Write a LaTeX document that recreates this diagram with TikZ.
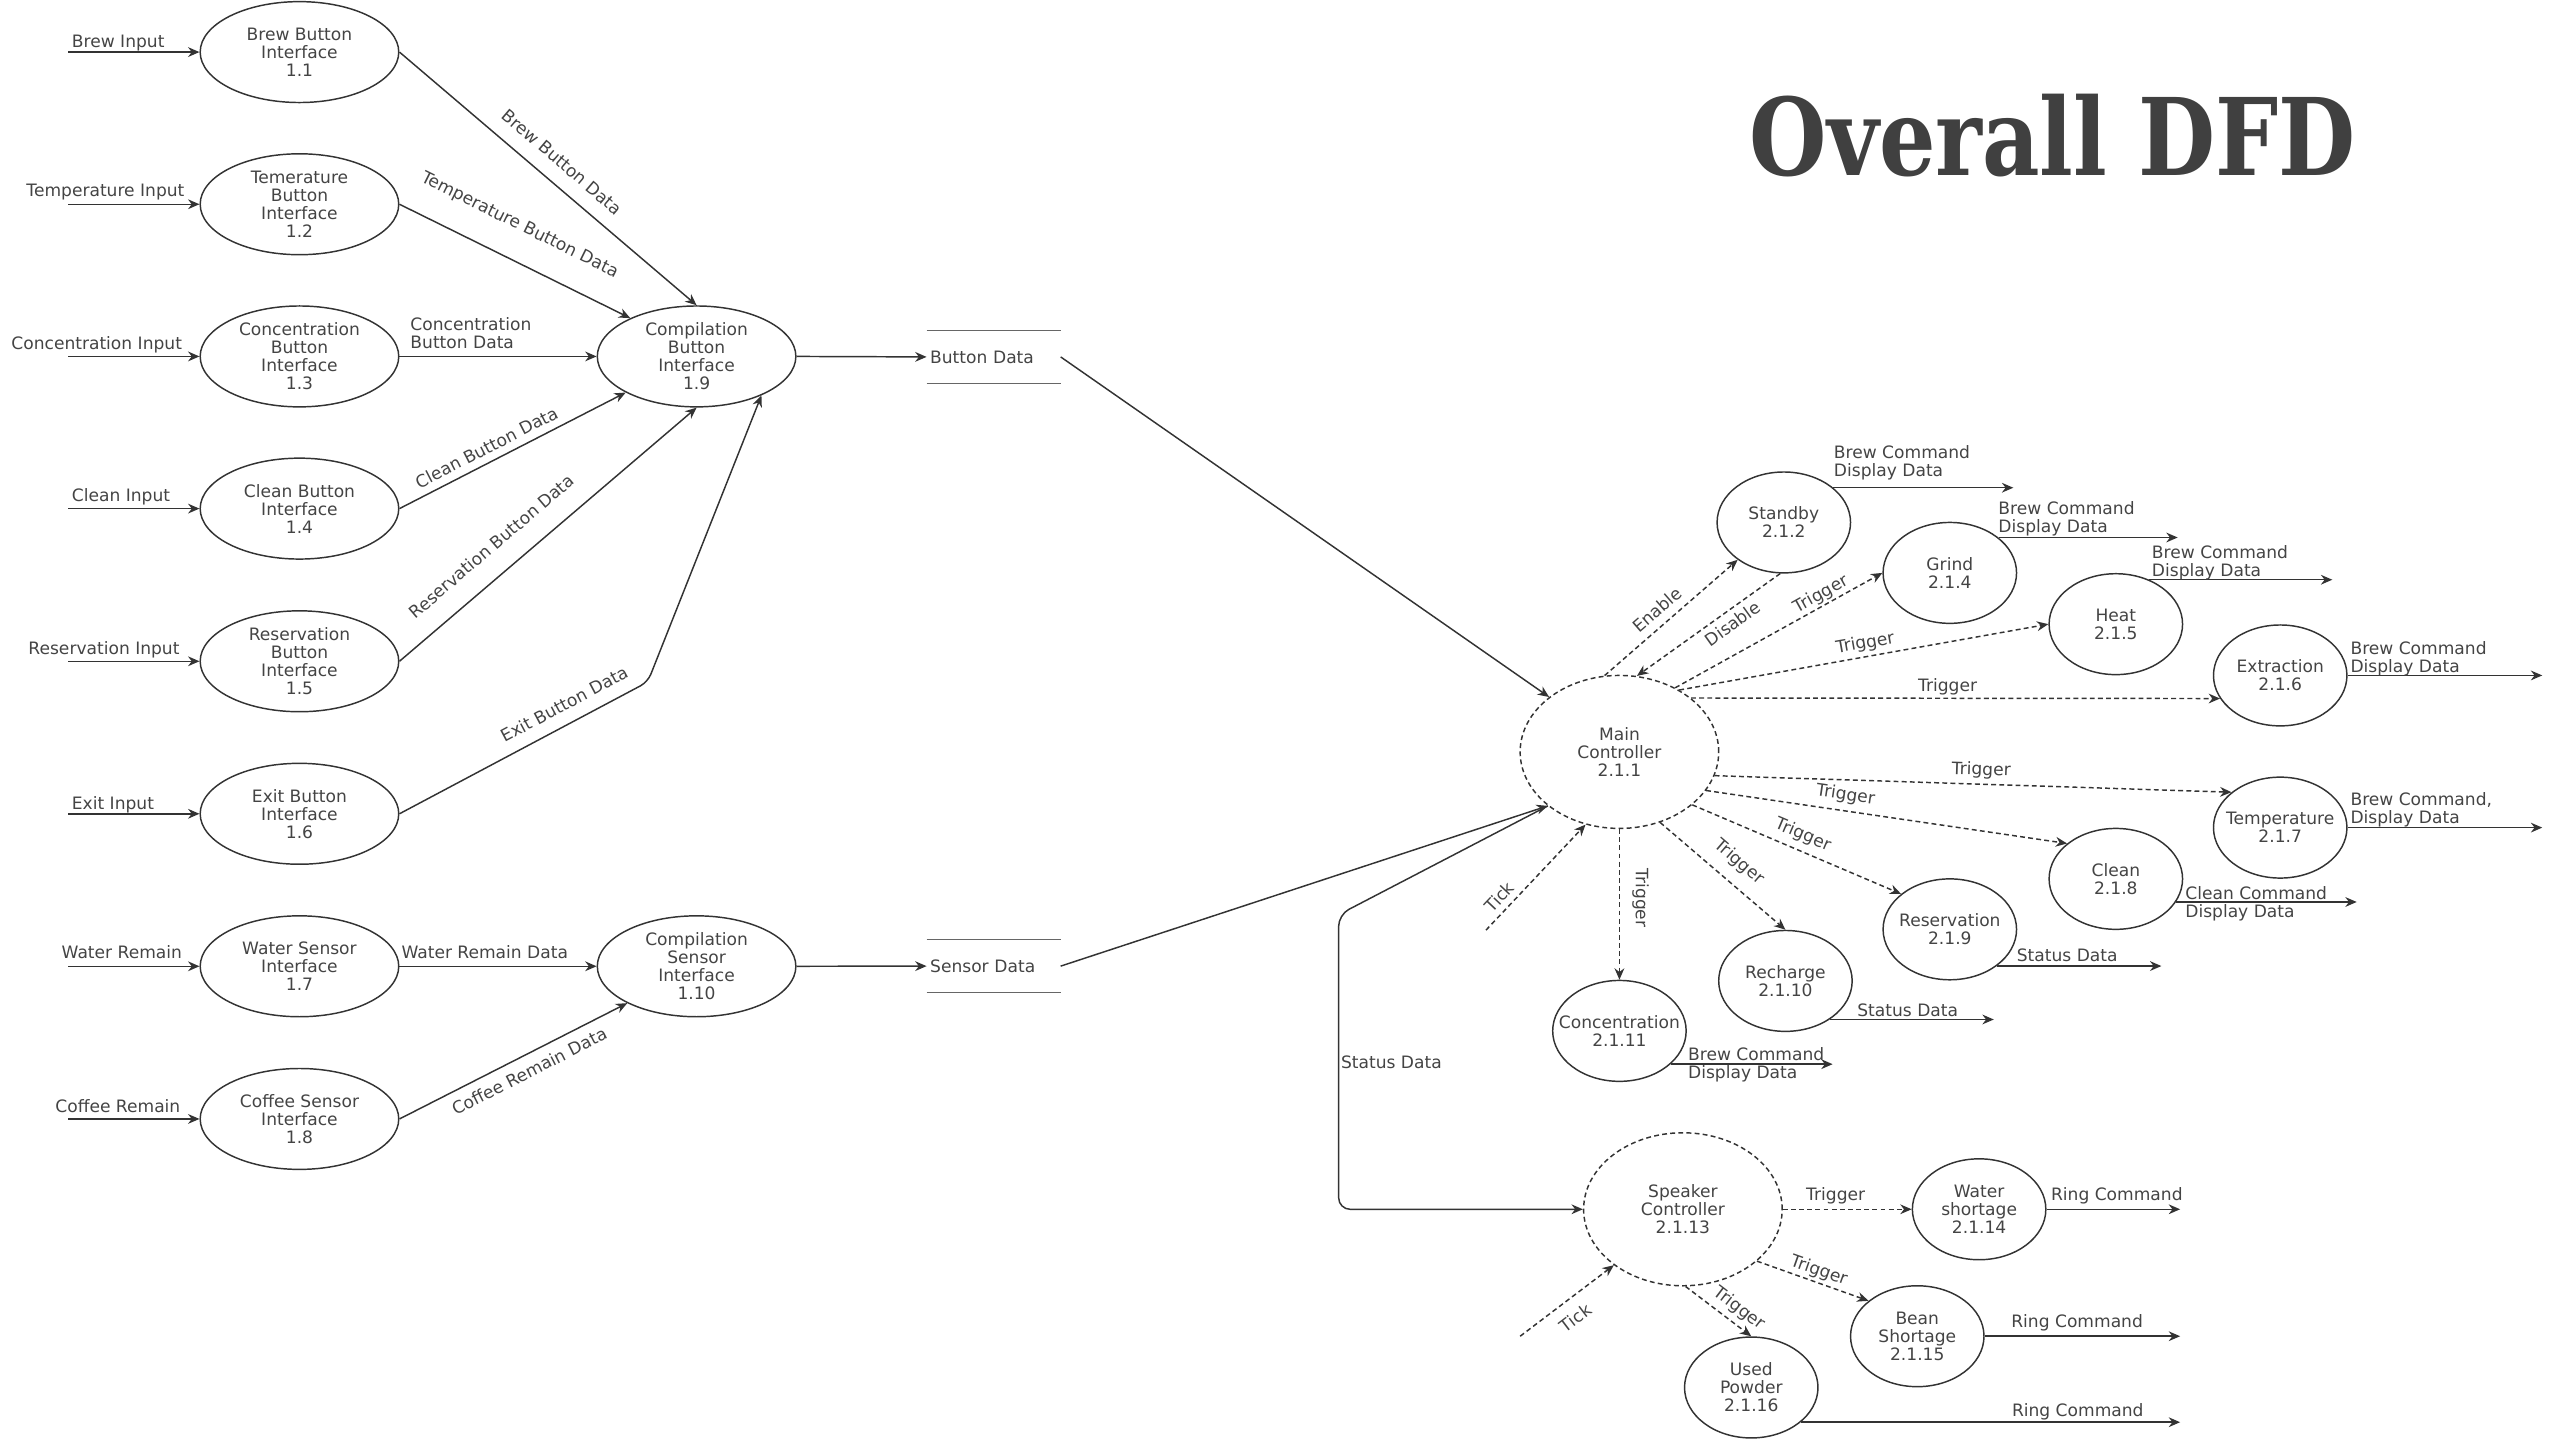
\documentclass[tikz,border=0pt]{standalone}
\usepackage{graphicx}
\usepackage{fontspec}
\setmainfont{DejaVu Sans}
\newfontfamily\titlefont{DejaVu Serif}
\usetikzlibrary{shapes.geometric,arrows.meta}
\definecolor{linec}{HTML}{333333}
\definecolor{storec}{HTML}{666666}
\definecolor{txtc}{HTML}{444444}
\definecolor{titlec}{HTML}{404040}
\begin{document}
\begin{tikzpicture}[x=1pt, y=-1pt, font=\fontsize{10.5}{11}\selectfont, text=txtc, line join=round,
  proc/.style={ellipse, draw=linec, line width=0.9pt, inner sep=0pt, align=center, minimum width=122pt, minimum height=62pt},
  sub/.style={proc, minimum width=82pt},
  ctrl/.style={proc, dash pattern=on 3pt off 2pt, minimum height=94pt},
  store/.style={inner xsep=2pt, inner ysep=0pt, text width=78pt, minimum height=32pt, align=left},
  flow/.style={draw=linec, line width=0.9pt, -{Stealth[length=7pt, width=6pt]}},
  sig/.style={flow, dash pattern=on 3pt off 2pt},
  lab/.style={inner sep=1pt}]
\useasboundingbox (0,0) rectangle (1568,885);

% title
\node[anchor=base west, inner sep=0pt, text=titlec] (ttl) at (1075,108) {\resizebox{372pt}{50pt}{\titlefont\bfseries Overall DFD}};

% interfaces
\node[proc] (bbi) at (184,32) {Brew Button\\Interface\\1.1};
\node[proc] (tbi) at (184,125.5) {Temerature\\Button\\Interface\\1.2};
\node[proc] (cnbi) at (184,219) {Concentration\\Button\\Interface\\1.3};
\node[proc] (clbi) at (184,312.5) {Clean Button\\Interface\\1.4};
\node[proc] (rbi) at (184,406.3) {Reservation\\Button\\Interface\\1.5};
\node[proc] (ebi) at (184,500) {Exit Button\\Interface\\1.6};
\node[proc] (wsi) at (184,593.7) {Water Sensor\\Interface\\1.7};
\node[proc] (csi) at (184,687.5) {Coffee Sensor\\Interface\\1.8};
\node[proc] (cbi) at (428,219) {Compilation\\Button\\Interface\\1.9};
\node[proc] (csni) at (428,593.7) {Compilation\\Sensor\\Interface\\1.10};

% data stores
\node[store] (bd) at (610.5,219.3) {Button Data};
\node[store] (sd) at (610.5,593.6) {Sensor Data};
\draw[storec, line width=0.9pt] (bd.north west) -- (bd.north east) (bd.south west) -- (bd.south east)
  (sd.north west) -- (sd.north east) (sd.south west) -- (sd.south east);

% controllers
\node[ctrl] (mc) at (995,462) {Main\\Controller\\2.1.1};
\node[ctrl] (spk) at (1034,743) {Speaker\\Controller\\2.1.13};

% sub processes
\node[sub] (stb) at (1096,321) {Standby\\2.1.2};
\node[sub] (grd) at (1198,352) {Grind\\2.1.4};
\node[sub] (hot) at (1300,383.5) {Heat\\2.1.5};
\node[sub] (ext) at (1401,415) {Extraction\\2.1.6};
\node[sub] (tmp) at (1401,508.5) {\makebox[50pt]{Temperature}\\2.1.7};
\node[sub] (cln) at (1300,540) {Clean\\2.1.8};
\node[sub] (rsv) at (1198,571) {\makebox[50pt]{Reservation}\\2.1.9};
\node[sub] (rch) at (1097,602.7) {Recharge\\2.1.10};
\node[sub] (cnc) at (995,633.4) {\makebox[50pt]{Concentration}\\2.1.11};
\node[sub] (wsh) at (1216,743) {Water\\shortage\\2.1.14};
\node[sub] (bsh) at (1178,821) {Bean\\Shortage\\2.1.15};
\node[sub] (upw) at (1076,852.5) {Used\\Powder\\2.1.16};

% external inputs
\coordinate (in1) at (42,32);
\coordinate (in2) at (42,125.5);
\coordinate (in3) at (42,219);
\coordinate (in4) at (42,312.5);
\coordinate (in5) at (42,406.3);
\coordinate (in6) at (42,500);
\coordinate (in7) at (42,593.7);
\coordinate (in8) at (42,687.5);
\draw[flow] (in1) -- (bbi);
\draw[flow] (in2) -- (tbi);
\draw[flow] (in3) -- (cnbi);
\draw[flow] (in4) -- (clbi);
\draw[flow] (in5) -- (rbi);
\draw[flow] (in6) -- (ebi);
\draw[flow] (in7) -- (wsi);
\draw[flow] (in8) -- (csi);
\node[lab, anchor=base west] (lin1) at (43,29) {Brew Input};
\node[lab, anchor=base east] (lin2) at (114.5,121) {Temperature Input};
\node[lab, anchor=base east] (lin3) at (113,215) {Concentration Input};
\node[lab, anchor=base west] (lin4) at (43,308) {Clean Input};
\node[lab, anchor=base east] (lin5) at (111.5,402) {Reservation Input};
\node[lab, anchor=base west] (lin6) at (43,497.5) {Exit Input};
\node[lab, anchor=base east] (lin7) at (113,589) {Water Remain};
\node[lab, anchor=base east] (lin8) at (112,683.5) {Coffee Remain};

% button data flows
\draw[flow] (bbi.east) -- node[lab, sloped, above=8pt, pos=0.5] (lbbd) {Brew Button Data} (cbi.north);
\draw[flow] (tbi.east) -- node[lab, sloped, above=14.5pt, pos=0.455] (ltbd) {Temperature Button Data} (cbi.150);
\draw[flow] (cnbi.east) -- (cbi.west);
\node[lab, anchor=west, align=left] (lcbd) at (251,204.7) {Concentration\\Button Data};
\draw[flow] (clbi.east) -- node[lab, sloped, above=3.5pt, pos=0.414] (lclbd) {Clean Button Data} (cbi.207);
\draw[flow] (rbi.east) -- node[lab, sloped, above=11.5pt, pos=0.37] (lrbd) {Reservation Button Data} (cbi.south);
\coordinate (exb) at (398,419);
\draw[flow, rounded corners=5pt] (ebi.east) -- node[lab, sloped, above=6.5pt, pos=0.7] (lebd) {Exit Button Data} (exb) -- (cbi.329);

% sensor data flows
\draw[flow] (wsi.east) -- (csni.west);
\node[lab, anchor=west] (lwrd) at (245.5,585) {Water Remain Data};
\draw[flow] (csi.east) -- node[lab, sloped, below=4.5pt, pos=0.537] (lcrd) {Coffee Remain Data} (csni.208);

% into the data stores and on to the main controller
\draw[flow] (cbi.east) -- (bd.west);
\draw[flow] (csni.east) -- (sd.west);
\draw[flow] (bd.east) -- (mc.142);
\draw[flow] (sd.east) -- (mc.217);

% main controller signals
\draw[sig] (mc.101) -- node[lab, sloped, above=4pt, pos=0.47] (len) {Enable} (stb.219);
\draw[sig] (stb.266) -- node[lab, sloped, below=2.5pt, pos=0.385] (ldis) {Disable} (mc.77);
\draw[sig] (mc.49) -- node[lab, sloped, above, pos=0.73] (ltg1) {Trigger} (grd.west);
\draw[sig] (mc.46) -- node[lab, sloped, above=1.5pt, pos=0.51] (ltg2) {Trigger} (hot.west);
\draw[sig] (mc.37) -- node[lab, sloped, above=0.5pt, pos=0.485] (ltg3) {Trigger} (ext.201);
\draw[sig] (mc.346) -- node[lab, sloped, above=2pt, pos=0.515] (ltg4) {Trigger} (tmp.144);
\draw[sig] (mc.336) -- node[lab, sloped, above=3pt, pos=0.38] (ltg5) {Trigger} (cln.144);
\draw[sig] (mc.324) -- node[lab, sloped, above=3pt, pos=0.5] (ltg6) {Trigger} (rsv.144);
\draw[sig] (mc.300) -- node[lab, sloped, above=6.5pt, pos=0.52] (ltg7) {Trigger} (rch.north);
\draw[sig] (mc.south) -- node[lab, sloped, above=6.5pt, pos=0.457] (ltg8) {Trigger} (cnc.north);
\coordinate (tk1) at (913,571.5);
\draw[sig] (tk1) -- node[lab, sloped, above=2.5pt, pos=0.23] (ltk1) {Tick} (mc.245);

% status data to the speaker controller
\coordinate (st1) at (822.5,562);
\coordinate (st2) at (822.5,743);
\draw[flow, rounded corners=7pt] (mc.217) -- (st1) -- node[lab, right, pos=0.5] (lstd) {Status Data} (st2) -- (spk.west);

% speaker controller signals
\draw[sig] (spk.east) -- node[lab, above=1.5pt, pos=0.41] (ltg9) {Trigger} (wsh.west);
\draw[sig] (spk.325) -- node[lab, sloped, above=0.5pt, pos=0.52] (ltg10) {Trigger} (bsh.144);
\draw[sig] (spk.272) -- node[lab, sloped, above=2.5pt, pos=0.68] (ltg11) {Trigger} (upw.north);
\coordinate (tk2) at (934,821);
\draw[sig] (tk2) -- node[lab, sloped, below=6pt, pos=0.47] (ltk2) {Tick} (spk.219);

% outputs
\coordinate (ostb) at (1237,300);
\coordinate (ogrd) at (1338,330.6);
\coordinate (ohot) at (1433,356.6);
\coordinate (oext) at (1562,415);
\coordinate (otmp) at (1562,508.5);
\coordinate (ocln) at (1448,554);
\coordinate (orsv) at (1328,593.3);
\coordinate (orch) at (1225,626);
\coordinate (ocnc) at (1126,653.5);
\coordinate (owsh) at (1339.5,743);
\coordinate (obsh) at (1339.5,821);
\coordinate (oupw) at (1339.5,873.7);
\draw[flow] (stb.35) -- (stb.35 -| ostb);
\draw[flow] (grd.36) -- (grd.36 -| ogrd);
\draw[flow] (hot.53) -- (hot.53 -| ohot);
\draw[flow] (ext.east) -- (oext);
\draw[flow] (tmp.east) -- (otmp);
\draw[flow] (cln.339) -- (cln.339 -| ocln);
\draw[flow] (rsv.322) -- (rsv.322 -| orsv);
\draw[flow] (rch.319) -- (rch.319 -| orch);
\draw[flow] (cnc.327) -- (cnc.327 -| ocnc);
\draw[flow] (wsh.east) -- (owsh);
\draw[flow] (bsh.east) -- (obsh);
\draw[flow] (upw.325) -- (upw.325 -| oupw);
\node[lab, anchor=west, align=left] (lostb) at (1125.6,284.2) {Brew Command\\Display Data};
\node[lab, anchor=west, align=left] (logrd) at (1226.7,318.5) {Brew Command\\Display Data};
\node[lab, anchor=west, align=left] (lohot) at (1321,345.8) {Brew Command\\Display Data};
\node[lab, anchor=west, align=left] (loext) at (1443,404.5) {Brew Command\\Display Data};
\node[lab, anchor=west, align=left] (lotmp) at (1443,497.5) {Brew Command,\\Display Data};
\node[lab, anchor=west, align=left] (locln) at (1341.5,555.5) {Clean Command\\Display Data};
\node[lab, anchor=west] (lorsv) at (1238,586.7) {Status Data};
\node[lab, anchor=west] (lorch) at (1140,621) {Status Data};
\node[lab, anchor=west, align=left] (locnc) at (1036,654) {Brew Command\\Display Data};
\node[lab, anchor=west] (lowsh) at (1259,735) {Ring Command};
\node[lab, anchor=west] (lobsh) at (1234.6,813) {Ring Command};
\node[lab, anchor=west] (loupw) at (1235,867.5) {Ring Command};
\end{tikzpicture}
\end{document}
